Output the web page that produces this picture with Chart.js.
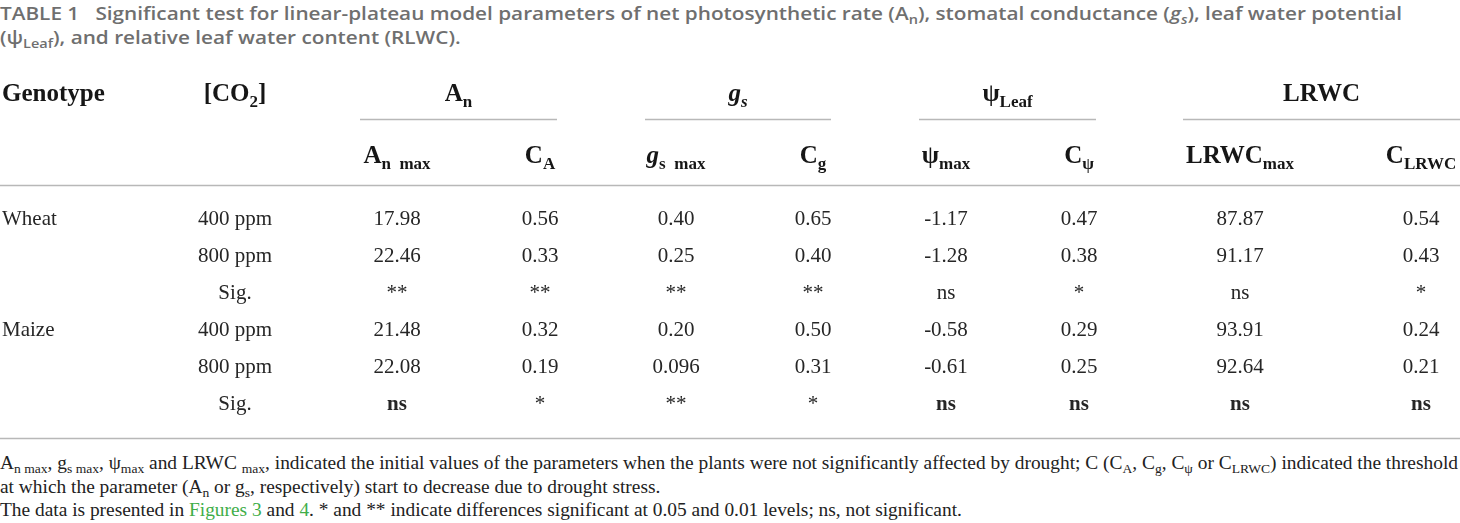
<!DOCTYPE html>
<html>
<head>
<meta charset="utf-8">
<title>Table 1</title>
<script src="https://cdn.jsdelivr.net/npm/chart.js@4.4.1/dist/chart.umd.min.js"></script>
<style>
    html, body { margin: 0; padding: 0; background: #fff; }
    body { width: 1460px; height: 523px; position: relative; overflow: hidden; }
    .line { display: block; width: max-content; white-space: nowrap; transform-origin: 0 0; }
    sub { font-size: 0.7em; vertical-align: -0.3em; line-height: 0; }
    #title {
        position: absolute; left: 0; top: 1px;
        font-family: "Open Sans", sans-serif; font-weight: 600;
        font-size: 18px; line-height: 24px; color: #6f6f6f;
    }
    #wrap { position: absolute; left: 0; top: 50px; width: 1460px; height: 400px; }
    #notes {
        position: absolute; left: 0; top: 451px;
        font-family: "Liberation Serif", serif;
        font-size: 19px; line-height: 23.5px; color: #222;
    }
    #notes .link { color: #3fae49; }
</style>
</head>
<body>
<div id="title">
    <span class="line">TABLE 1&nbsp;&nbsp;&nbsp;Significant test for linear-plateau model parameters of net photosynthetic rate (A<sub>n</sub>), stomatal conductance (<i>g<sub>s</sub></i>), leaf water potential</span>
    <span class="line">(ψ<sub>Leaf</sub>), and relative leaf water content (RLWC).</span>
</div>

<div id="wrap"><canvas id="tableChart" width="1460" height="400"></canvas></div>

<div id="notes">
    <span class="line">A<sub>n max</sub>, g<sub>s max</sub>, ψ<sub>max</sub> and LRWC <sub>max</sub>, indicated the initial values of the parameters when the plants were not significantly affected by drought; C (C<sub>A</sub>, C<sub>g</sub>, C<sub>ψ</sub> or C<sub>LRWC</sub>) indicated the threshold</span>
    <span class="line">at which the parameter (A<sub>n</sub> or g<sub>s</sub>, respectively) start to decrease due to drought stress.</span>
    <span class="line">The data is presented in <span class="link">Figures 3</span> and <span class="link">4</span>. * and ** indicate differences significant at 0.05 and 0.01 levels; ns, not significant.</span>
</div>

<script>
// table values, one array per column
const genotypes = ['Wheat', '', '', 'Maize', '', ''];
const co2Levels = ['400 ppm', '800 ppm', 'Sig.', '400 ppm', '800 ppm', 'Sig.'];
const anMax   = ['17.98', '22.46', '**', '21.48', '22.08', 'ns'];
const cA      = ['0.56', '0.33', '**', '0.32', '0.19', '*'];
const gsMax   = ['0.40', '0.25', '**', '0.20', '0.096', '**'];
const cG      = ['0.65', '0.40', '**', '0.50', '0.31', '*'];
const psiMax  = ['-1.17', '-1.28', 'ns', '-0.58', '-0.61', 'ns'];
const cPsi    = ['0.47', '0.38', '*', '0.29', '0.25', 'ns'];
const lrwcMax = ['87.87', '91.17', 'ns', '93.91', '92.64', 'ns'];
const cLrwc   = ['0.54', '0.43', '*', '0.24', '0.21', 'ns'];
const boldRow = 5; // maize "Sig." row prints ns in bold

// header labels as [text, style] pieces
const groupLabels = [
    [['A', 'b'], ['n', 'sub']],
    [['g', 'bi'], ['s', 'subi']],
    [['ψ', 'b'], ['Leaf', 'sub']],
    [['LRWC', 'b']]
];
const subLabels = [
    [['A', 'b'], ['n  max', 'sub']],
    [['C', 'b'], ['A', 'sub']],
    [['g', 'bi'], ['s  max', 'sub']],
    [['C', 'b'], ['g', 'sub']],
    [['ψ', 'b'], ['max', 'sub']],
    [['C', 'b'], ['ψ', 'sub']],
    [['LRWC', 'b'], ['max', 'sub']],
    [['C', 'b'], ['LRWC', 'sub']]
];
const genotypeLabel = [['Genotype', 'b']];
const co2Label = [['[CO', 'b'], ['2', 'sub'], [']', 'b']];

// layout (pixels on the x scale, row units on the y scale)
const layout = {
    genotypeX: 2,
    centers: [235, 397, 540, 676, 813, 946, 1079, 1240, 1421],
    groups: [[360, 557], [645, 831], [919, 1096], [1183, 1460]],
    rowTop: 168, rowStep: 37, height: 400,
    header1: -3.16, header2: -1.49,
    underline: -2.68, headRule: -0.89, footRule: 5.95
};

const paramCols = [co2Levels, anMax, cA, gsMax, cG, psiMax, cPsi, lrwcMax, cLrwc];
const SERIF = '"Liberation Serif", "Times New Roman", serif';
const DATA_SIZE = 21, HEAD_SIZE = 25, SUB_SIZE = 17;

const fontFor = {
    b:    { font: `bold ${HEAD_SIZE}px ${SERIF}`, dy: 0 },
    bi:   { font: `italic bold ${HEAD_SIZE}px ${SERIF}`, dy: 0 },
    sub:  { font: `bold ${SUB_SIZE}px ${SERIF}`, dy: 6 },
    subi: { font: `italic bold ${SUB_SIZE}px ${SERIF}`, dy: 6 }
};

function drawRich(ctx, pieces, x, y, align) {
    let total = 0;
    pieces.forEach(([t, s]) => { ctx.font = fontFor[s].font; total += ctx.measureText(t).width; });
    let cx = align === 'left' ? x : align === 'right' ? x - total : x - total / 2;
    ctx.textAlign = 'left';
    pieces.forEach(([t, s]) => {
        ctx.font = fontFor[s].font;
        ctx.fillText(t, cx, y + fontFor[s].dy);
        cx += ctx.measureText(t).width;
    });
}

const yMin = -layout.rowTop / layout.rowStep;
const yMax = yMin + layout.height / layout.rowStep;

const datasets = [genotypes].concat(paramCols).map((col, ci) => ({
    label: 'col' + ci,
    data: col.map((_, r) => ({ x: ci === 0 ? layout.genotypeX : layout.centers[ci - 1], y: r })),
    texts: col,
    align: ci === 0 ? 'left' : 'center',
    pointRadius: 0,
    showLine: false
}));

const tablePlugin = {
    id: 'tableText',
    afterDraw(chart) {
        const ctx = chart.ctx;
        const xs = chart.scales.x, ys = chart.scales.y;
        ctx.save();

        // rules
        ctx.strokeStyle = '#b8b8b8';
        ctx.lineWidth = 1.6;
        const hline = (x0, x1, v) => {
            const py = Math.round(ys.getPixelForValue(v)) + 0.5;
            ctx.beginPath();
            ctx.moveTo(xs.getPixelForValue(x0), py);
            ctx.lineTo(xs.getPixelForValue(x1), py);
            ctx.stroke();
        };
        layout.groups.forEach(([a, b]) => hline(a, b, layout.underline));
        hline(0, 1460, layout.headRule);
        hline(0, 1460, layout.footRule);

        // headers
        ctx.fillStyle = '#161616';
        const h1 = ys.getPixelForValue(layout.header1);
        const h2 = ys.getPixelForValue(layout.header2);
        drawRich(ctx, genotypeLabel, xs.getPixelForValue(layout.genotypeX), h1, 'left');
        drawRich(ctx, co2Label, xs.getPixelForValue(layout.centers[0]), h1, 'center');
        layout.groups.forEach(([a, b], i) => {
            drawRich(ctx, groupLabels[i], xs.getPixelForValue((a + b) / 2), h1, 'center');
        });
        subLabels.forEach((lab, i) => {
            drawRich(ctx, lab, xs.getPixelForValue(layout.centers[i + 1]), h2, 'center');
        });

        // body cells
        ctx.fillStyle = '#262626';
        ctx.textBaseline = 'alphabetic';
        chart.data.datasets.forEach((ds, di) => {
            const meta = chart.getDatasetMeta(di);
            ctx.textAlign = ds.align;
            meta.data.forEach((pt, r) => {
                const txt = ds.texts[r];
                if (!txt) return;
                const bold = r === boldRow && txt === 'ns';
                ctx.font = `${bold ? 'bold ' : ''}${DATA_SIZE}px ${SERIF}`;
                ctx.fillText(txt, pt.x, pt.y + DATA_SIZE * 0.34);
            });
        });
        ctx.restore();
    }
};

new Chart(document.getElementById('tableChart'), {
    type: 'scatter',
    data: { datasets: datasets },
    options: {
        responsive: false,
        animation: false,
        events: [],
        layout: { padding: 0 },
        scales: {
            x: { type: 'linear', min: 0, max: 1460, display: false },
            y: { type: 'linear', min: yMin, max: yMax, reverse: true, display: false }
        },
        plugins: { legend: { display: false }, tooltip: { enabled: false }, title: { display: false } }
    },
    plugins: [tablePlugin]
});

// squeeze caption and notes to the widths of the printed page
function fitLines(boxId, target) {
    const lines = document.querySelectorAll('#' + boxId + ' .line');
    const w = lines[0].getBoundingClientRect().width;
    const k = target / w;
    lines.forEach(l => { l.style.transform = `scaleX(${k})`; });
}
fitLines('title', 1402);
fitLines('notes', 1458);
</script>
</body>
</html>
